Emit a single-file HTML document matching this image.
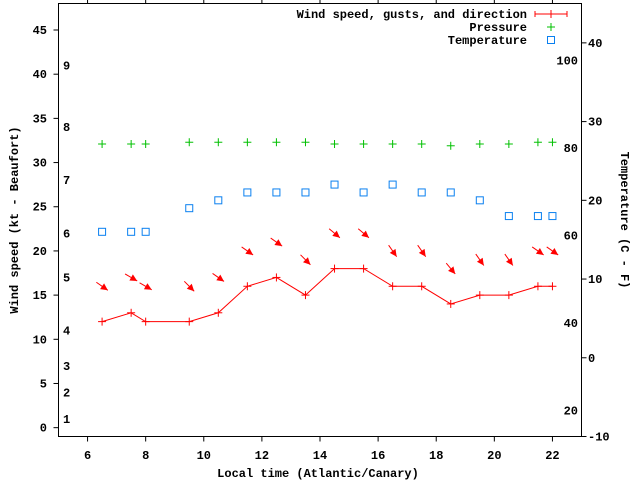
<!DOCTYPE html>
<html><head><meta charset="utf-8"><style>
html,body{margin:0;padding:0;background:#fff;}
svg{display:block;font-family:"Liberation Mono","DejaVu Sans Mono",monospace;font-weight:bold;font-size:12px;}
</style></head><body>
<svg id="chart" width="640" height="480" viewBox="0 0 640 480" xmlns="http://www.w3.org/2000/svg">
<rect x="0" y="0" width="640" height="480" fill="#fff"/>
<g id="axes"></g>
<g id="series"></g>
<g id="legend"></g>
</svg>
<script>
const times = [6.5,7.5,8,9.5,10.5,11.5,12.5,13.5,14.5,15.5,16.5,17.5,18.5,19.5,20.5,21.5,22];
const windSpeed = [12,13,12,12,13,16,17,15,18,18,16,16,14,15,15,16,16];
const gustSpeed = [16,17,16,16,17,20,21,19,22,22,20,20,18,19,19,20,20];
const windDir = [305,300,300,315,305,305,305,315,310,310,325,325,320,325,325,305,305];
const pressure = [32.1,32.1,32.1,32.3,32.3,32.3,32.3,32.3,32.1,32.1,32.1,32.1,31.9,32.1,32.1,32.3,32.3];
const temperature = [16,16,16,19,20,21,21,21,22,21,22,21,21,20,18,18,18];
const xTicks = [6,8,10,12,14,16,18,20,22];
const yTicks = [0,5,10,15,20,25,30,35,40,45];
const tempCTicks = [-10,0,10,20,30,40];
const tempFTicks = [20,40,60,80,100];
const beaufortLabels = ["1","2","3","4","5","6","7","8","9"];
const beaufortKt = [1,4,7,11,17,22,28,34,41];

const L=58.5,R=581.5,T=3.5,B=436.5;
const xMin=5,xMax=23,yMin=-1,yMax=48,cMin=-10,cMax=45;
const X=v=>L+(v-xMin)/(xMax-xMin)*(R-L);
const Y=v=>B-(v-yMin)/(yMax-yMin)*(B-T);
const YC=v=>B-(v-cMin)/(cMax-cMin)*(B-T);
const NS="http://www.w3.org/2000/svg";
function mk(tag,attrs,parent,txt){const e=document.createElementNS(NS,tag);for(const k in attrs)e.setAttribute(k,attrs[k]);if(txt!==undefined)e.textContent=txt;parent.appendChild(e);return e;}
const axes=document.getElementById('axes'),ser=document.getElementById('series'),leg=document.getElementById('legend');

let fr=mk('rect',{x:L,y:T,width:R-L,height:B-T,fill:'none',stroke:'#000','stroke-width':1},axes);


xTicks.forEach(v=>{
  const x=X(v);
  mk('line',{x1:x,y1:B,x2:x,y2:B+5,stroke:'#000'},axes);
  mk('line',{x1:x,y1:T,x2:x,y2:T-4,stroke:'#000'},axes);
  const t=mk('text',{x:x,y:459,'text-anchor':'middle'},axes,String(v));
  
  
});
yTicks.forEach(v=>{
  const y=Y(v);
  mk('line',{x1:L-5,y1:y,x2:L,y2:y,stroke:'#000'},axes);
  const t=mk('text',{x:47,y:y+4,'text-anchor':'end'},axes,String(v));
  
  
});
tempCTicks.forEach(v=>{
  const y=YC(v);
  mk('line',{x1:R,y1:y,x2:R+5,y2:y,stroke:'#000'},axes);
  const t=mk('text',{x:588,y:y+4,'text-anchor':'start'},axes,String(v));
  
  
});
tempFTicks.forEach(v=>{
  const c=(v-32)*5/9;
  const t=mk('text',{x:578,y:YC(c)+4,'text-anchor':'end'},axes,String(v));
  
  
});
beaufortLabels.forEach((s,i)=>{
  const t=mk('text',{x:63,y:Y(beaufortKt[i])+4,'text-anchor':'start'},axes,s);
  
  
});
let xl=mk('text',{x:318,y:477,'text-anchor':'middle'},axes,'Local time (Atlantic/Canary)');


let yl=mk('text',{x:0,y:0,'text-anchor':'middle',transform:'translate(18,220) rotate(-90)'},axes,'Wind speed (kt - Beaufort)');


let yr=mk('text',{x:0,y:0,'text-anchor':'middle',transform:'translate(621,220) rotate(90)'},axes,'Temperature (C - F)');



function plus(x,y,col,name){
  const g=mk('g',{stroke:col,'stroke-width':1},ser);
  
  
  mk('line',{x1:x-4,y1:y,x2:x+4,y2:y},g);mk('line',{x1:x,y1:y-4,x2:x,y2:y+4},g);
  return g;
}
// wind line
let pts=times.map((t,i)=>X(t)+','+Y(windSpeed[i])).join(' ');
let wl=mk('polyline',{points:pts,fill:'none',stroke:'#f00','stroke-width':1},ser);


times.forEach((t,i)=>plus(X(t),Y(windSpeed[i]),'#f00','wind-speed-point'));
// gust arrows
times.forEach((t,i)=>{
  const cx=X(t),cy=Y(gustSpeed[i]);
  const a=(windDir[i]+180)*Math.PI/180;
  const dx=Math.sin(a),dy=-Math.cos(a),len=14;
  const x1=cx-dx*len/2,y1=cy-dy*len/2,x2=cx+dx*len/2,y2=cy+dy*len/2;
  const g=mk('g',{},ser);
  
  
  mk('line',{x1:x1,y1:y1,x2:x2,y2:y2,stroke:'#f00','stroke-width':1},g);
  const px=-dy,py=dx,h=7,w=3.5;
  const bx=x2-dx*h,by=y2-dy*h;
  mk('polygon',{points:`${x2},${y2} ${bx+px*w},${by+py*w} ${bx-px*w},${by-py*w}`,fill:'#f00'},g);
});
// pressure
times.forEach((t,i)=>plus(X(t),Y(pressure[i]),'#00c000','pressure-point'));
// temperature
times.forEach((t,i)=>{
  const r=mk('rect',{x:X(t)-3.5,y:YC(temperature[i])-3.5,width:7,height:7,fill:'none',stroke:'#0a80f0','stroke-width':1},ser);
  
  
});
// legend
const legNames=['Wind speed, gusts, and direction','Pressure','Temperature'];
legNames.forEach((s,i)=>{
  const y=14+i*13;
  const t=mk('text',{x:527,y:y+4,'text-anchor':'end'},leg,s);
  
  
});
let lg=mk('g',{stroke:'#f00'},leg);


mk('line',{x1:535,y1:14,x2:567,y2:14},lg);mk('line',{x1:535,y1:11,x2:535,y2:17},lg);mk('line',{x1:567,y1:11,x2:567,y2:17},lg);mk('line',{x1:551,y1:10,x2:551,y2:18},lg);
let lp=mk('g',{stroke:'#00c000'},leg);


mk('line',{x1:547,y1:27,x2:555,y2:27},lp);mk('line',{x1:551,y1:23,x2:551,y2:31},lp);
let lt=mk('rect',{x:547.5,y:36.5,width:7,height:7,fill:'none',stroke:'#0a80f0'},leg);


</script>
</body></html>
